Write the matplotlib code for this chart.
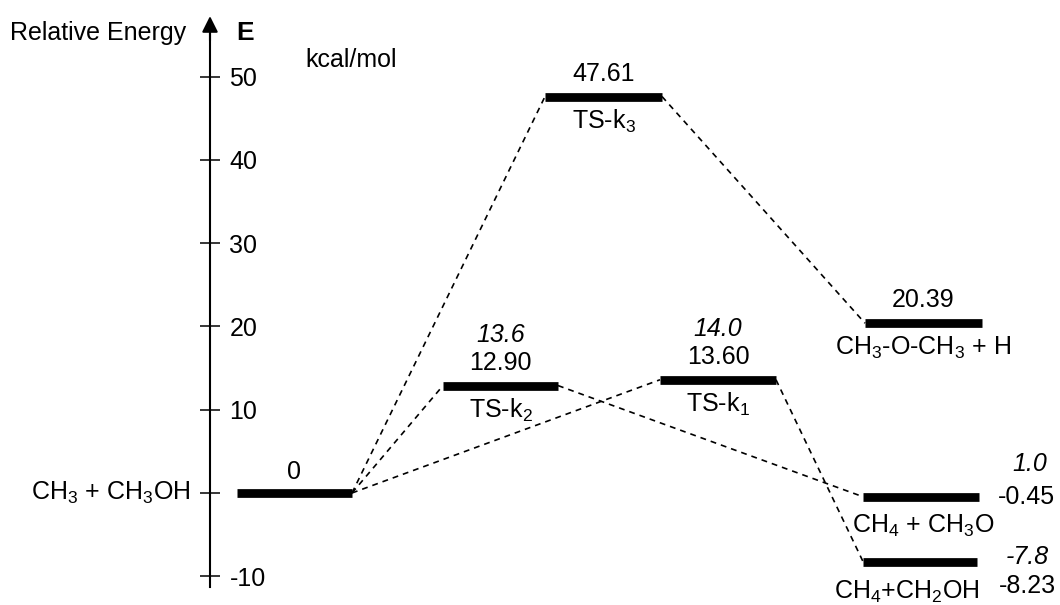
import matplotlib
matplotlib.use("Agg")
import matplotlib.pyplot as plt

plt.rcParams['font.family'] = ['Liberation Sans', 'DejaVu Sans']
plt.rcParams['mathtext.fontset'] = 'custom'
plt.rcParams['mathtext.rm'] = 'Liberation Sans'
plt.rcParams['mathtext.it'] = 'Liberation Sans:italic'

# energy levels (kcal/mol)
names = ["CH$_3$ + CH$_3$OH", "TS-k$_2$", "TS-k$_3$", "TS-k$_1$",
         "CH$_3$-O-CH$_3$ + H", "CH$_4$ + CH$_3$O", "CH$_4$+CH$_2$OH"]
energies = [0, 12.90, 47.61, 13.60, 20.39, -0.45, -8.23]
values_txt = ["0", "12.90", "47.61", "13.60", "20.39", "-0.45", "-8.23"]
other_txt = ["", "13.6", "", "14.0", "", "1.0", "-7.8"]   # italic values
# horizontal position of each level (left, right)
x_left = [237, 443, 545, 660, 865, 863, 863]
x_right = [352, 558, 662, 776, 982, 979, 977]
# dashed connections (from level, to level)
links = [(0, 1), (0, 2), (0, 3), (1, 5), (3, 6), (2, 4)]
yticks = [-10, 0, 10, 20, 30, 40, 50]

fs = 18

fig = plt.figure(figsize=(10.6, 6.05), dpi=100)
ax = fig.add_axes([0, 0, 1, 1])
ax.set_xlim(0, 1060)
ax.set_ylim(-13.45, 59.2)

for s in ['left', 'top', 'bottom']:
    ax.spines[s].set_visible(False)
ax.spines['right'].set_position(('data', 210))
ax.spines['right'].set_bounds(-11.3, 56)
ax.spines['right'].set_linewidth(1.5)
ax.yaxis.tick_right()
ax.set_xticks([])
ax.set_yticks(yticks)
ax.set_yticklabels([str(t) if t != 0 else "" for t in yticks])
ax.tick_params(axis='y', direction='inout', length=14, width=1.1, pad=7, labelsize=fs)
ax.annotate('', xy=(210, 57.6), xytext=(210, 54),
            arrowprops=dict(arrowstyle='-|>', lw=1.5, mutation_scale=24, color='black'))

# levels
for i in range(len(energies)):
    ax.plot([x_left[i], x_right[i]], [energies[i], energies[i]], color='black', lw=6.3,
            solid_capstyle='butt', zorder=3)

# dashed connectors
for a, b in links:
    ax.plot([x_right[a], x_left[b]], [energies[a], energies[b]], color='black', lw=1.2,
            ls=(0, (3.5, 3)), zorder=2)

# labels
ax.text(190, energies[0], names[0], ha='right', va='center', fontsize=fs)
ax.annotate(values_txt[0], (294, energies[0]), xytext=(0, 21), textcoords='offset pixels',
            ha='center', va='center', fontsize=fs)
for i in [1, 2, 3, 4]:
    xc = (x_left[i] + x_right[i]) / 2
    ax.annotate(values_txt[i], (xc, energies[i]), xytext=(0, 23), textcoords='offset pixels',
                ha='center', va='center', fontsize=fs)
    ax.annotate(names[i], (xc, energies[i]), xytext=(0, -25), textcoords='offset pixels',
                ha='center', va='center', fontsize=fs)
    if other_txt[i]:
        ax.annotate(other_txt[i], (xc, energies[i]), xytext=(0, 51), textcoords='offset pixels',
                    ha='center', va='center', fontsize=fs, style='italic')

# lower-right products
ax.annotate(values_txt[5], (1026, energies[5]), xytext=(0, 0), textcoords='offset pixels',
            ha='center', va='center', fontsize=fs)
ax.annotate(other_txt[5], (1030, energies[5]), xytext=(0, 33), textcoords='offset pixels',
            ha='center', va='center', fontsize=fs, style='italic')
ax.annotate(names[5], (923, energies[5]), xytext=(0, -29), textcoords='offset pixels',
            ha='center', va='center', fontsize=fs)
ax.annotate(other_txt[6], (1027, energies[6]), xytext=(0, 5), textcoords='offset pixels',
            ha='center', va='center', fontsize=fs, style='italic')
ax.annotate(values_txt[6], (1027, energies[6]), xytext=(0, -24), textcoords='offset pixels',
            ha='center', va='center', fontsize=fs)
ax.annotate(names[6], (907, energies[6]), xytext=(0, -30), textcoords='offset pixels',
            ha='center', va='center', fontsize=fs)

# axis titles
fig.text(10 / 1060, 1 - 33 / 605, "Relative Energy", ha='left', va='center', fontsize=fs)
fig.text(236 / 1060, 1 - 33 / 605, "E", ha='left', va='center', fontsize=fs + 1, weight='bold')
fig.text(305 / 1060, 1 - 60 / 605, "kcal/mol", ha='left', va='center', fontsize=fs)

fig.savefig("out.png", dpi=100)
